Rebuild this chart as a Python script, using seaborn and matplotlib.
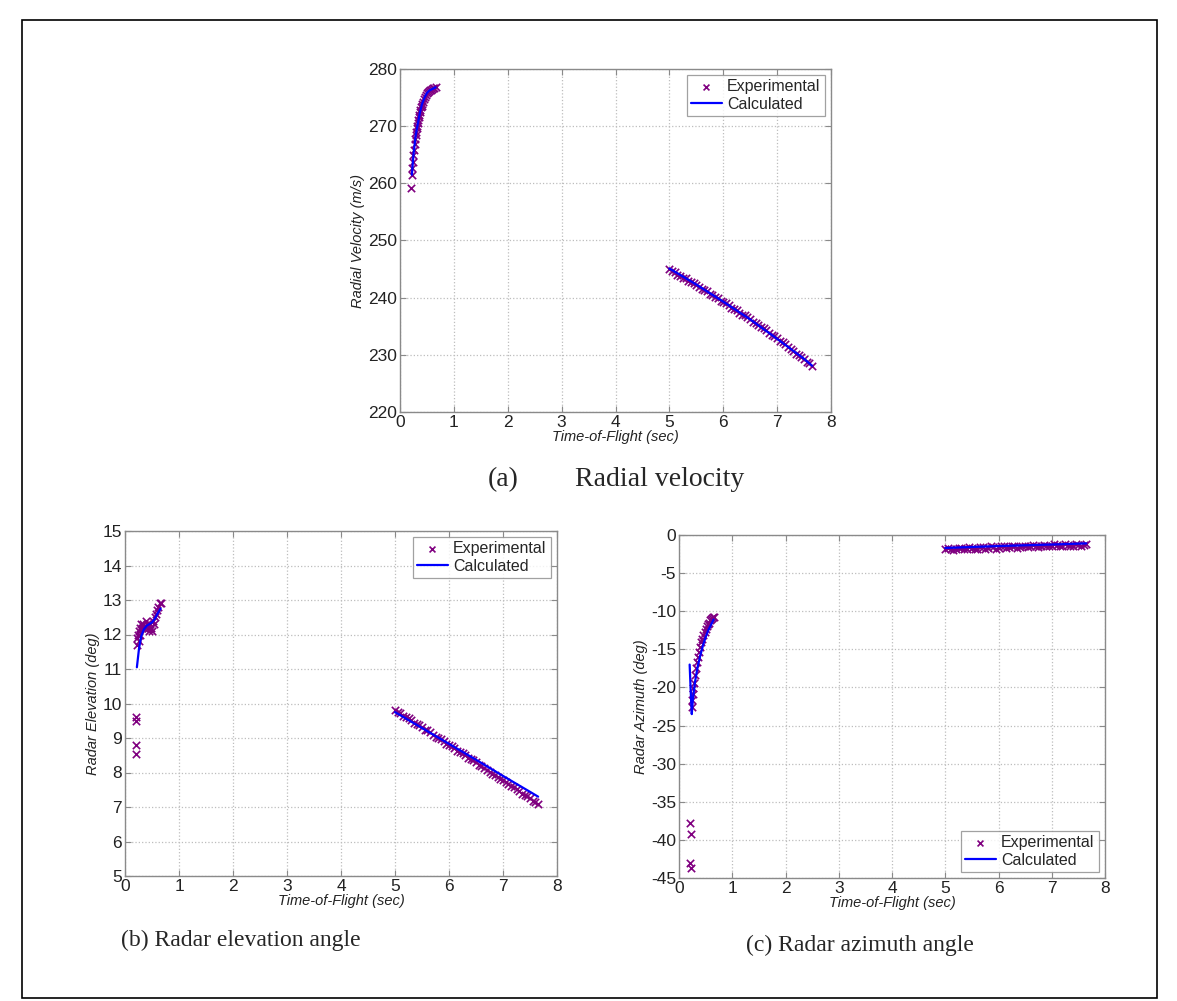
import matplotlib
matplotlib.use('Agg')
import numpy as np
import matplotlib.pyplot as plt
import seaborn as sns
from matplotlib.patches import Rectangle

# ---- (a) radial velocity, m/s
rv_t1 = [0.20, 0.22, 0.23, 0.24, 0.25, 0.26, 0.27, 0.28, 0.29, 0.30, 0.31, 0.32, 0.33, 0.34, 0.35, 0.36, 0.37,
         0.38, 0.39, 0.40, 0.41, 0.42, 0.44, 0.46, 0.48, 0.50, 0.52, 0.54, 0.56, 0.58, 0.60, 0.62, 0.64, 0.66]
rv_e1 = [259.2, 261.4, 262.6, 263.8, 264.9, 265.9, 266.9, 267.7, 268.4, 269.0, 269.6, 270.1, 270.6, 271.1, 271.6,
         272.0, 272.5, 272.9, 273.3, 273.6, 273.9, 274.2, 274.7, 275.1, 275.5, 275.8, 276.0, 276.2, 276.3, 276.4,
         276.5, 276.6, 276.7, 276.8]
# second track, shared time stamps for all three panels
t2 = [5.0, 5.05, 5.1, 5.15, 5.2, 5.25, 5.3, 5.35, 5.4, 5.45, 5.5, 5.55, 5.6, 5.65, 5.7, 5.75, 5.8, 5.85,
      5.9, 5.95, 6.0, 6.05, 6.1, 6.15, 6.2, 6.25, 6.3, 6.35, 6.4, 6.45, 6.5, 6.55, 6.6, 6.65, 6.7, 6.75,
      6.8, 6.85, 6.9, 6.95, 7.0, 7.05, 7.1, 7.15, 7.2, 7.25, 7.3, 7.35, 7.4, 7.45, 7.5, 7.55, 7.6, 7.65]
rv_e2 = [245.0, 244.6, 244.5, 244.0, 243.8, 243.5, 243.4, 242.9, 242.7, 242.6, 242.3, 241.8, 241.6, 241.4,
         241.1, 240.6, 240.4, 240.2, 239.9, 239.4, 239.2, 239.0, 238.7, 238.2, 238.0, 237.8, 237.4, 237.0,
         236.9, 236.6, 236.2, 235.8, 235.6, 235.3, 234.9, 234.7, 234.3, 233.8, 233.5, 233.3, 232.9, 232.4,
         232.2, 231.9, 231.4, 231.1, 230.7, 230.2, 229.9, 229.7, 229.3, 228.8, 228.5, 228.0]
rv_ct1 = [0.22, 0.25, 0.29, 0.33, 0.37, 0.41, 0.46, 0.50, 0.54, 0.60, 0.66]
rv_c1 = [261.5, 265.0, 268.3, 270.4, 272.4, 273.9, 275.1, 275.8, 276.2, 276.5, 276.8]
rv_ct2 = [5.0, 5.5, 6.0, 6.5, 7.0, 7.5, 7.65]
rv_c2 = [245.1, 242.3, 239.3, 236.2, 232.8, 229.3, 228.1]

# ---- (b) radar elevation, deg
el_t1 = [0.20, 0.21, 0.20, 0.21, 0.22, 0.23, 0.24, 0.25, 0.26, 0.27, 0.28, 0.30, 0.32, 0.34, 0.36, 0.38, 0.40,
         0.42, 0.44, 0.46, 0.48, 0.50, 0.52, 0.54, 0.56, 0.58, 0.60, 0.62, 0.64, 0.66]
el_e1 = [9.6, 9.5, 8.8, 8.55, 11.7, 11.9, 12.0, 11.8, 12.1, 12.2, 12.0, 12.3, 12.2, 12.3, 12.2, 12.4, 12.3,
         12.2, 12.1, 12.3, 12.2, 12.1, 12.4, 12.3, 12.5, 12.6, 12.7, 12.8, 12.9, 12.9]
el_e2 = [9.80, 9.74, 9.72, 9.64, 9.60, 9.57, 9.52, 9.44, 9.40, 9.37, 9.31, 9.24, 9.22, 9.17, 9.10, 9.04,
         9.01, 8.97, 8.90, 8.83, 8.80, 8.76, 8.70, 8.63, 8.59, 8.56, 8.50, 8.42, 8.38, 8.35, 8.29, 8.22,
         8.18, 8.14, 8.08, 8.01, 7.97, 7.93, 7.87, 7.80, 7.77, 7.73, 7.66, 7.60, 7.57, 7.52, 7.45, 7.39,
         7.36, 7.31, 7.25, 7.18, 7.14, 7.08]
el_ct1 = [0.22, 0.26, 0.30, 0.35, 0.40, 0.45, 0.50, 0.55, 0.60, 0.66]
el_c1 = [11.05, 11.6, 11.95, 12.15, 12.25, 12.3, 12.35, 12.45, 12.6, 12.75]
el_ct2 = [5.0, 5.5, 6.0, 6.5, 7.0, 7.5, 7.65]
el_c2 = [9.75, 9.29, 8.83, 8.37, 7.90, 7.44, 7.30]

# ---- (c) radar azimuth, deg
az_t1 = [0.21, 0.22, 0.21, 0.22, 0.24, 0.25, 0.26, 0.27, 0.28, 0.30, 0.32, 0.34, 0.36, 0.38, 0.40, 0.42, 0.44,
         0.46, 0.48, 0.50, 0.52, 0.54, 0.56, 0.58, 0.60, 0.62, 0.64, 0.66]
az_e1 = [-37.8, -39.2, -43.0, -43.7, -22.5, -21.6, -20.8, -20.1, -19.4, -18.4, -17.5, -16.7, -16.0, -15.3,
         -14.7, -14.1, -13.6, -13.1, -12.7, -12.3, -12.0, -11.7, -11.5, -11.2, -11.0, -10.9, -10.8, -10.7]
az_e2 = [-1.9, -1.7, -1.8, -2.0, -1.9, -1.7, -1.7, -1.9, -1.8, -1.6, -1.7, -1.9, -1.8, -1.6, -1.6, -1.8,
         -1.7, -1.5, -1.6, -1.8, -1.7, -1.5, -1.5, -1.7, -1.6, -1.4, -1.5, -1.7, -1.6, -1.4, -1.5, -1.6,
         -1.4, -1.3, -1.5, -1.6, -1.4, -1.3, -1.5, -1.5, -1.4, -1.2, -1.3, -1.5, -1.4, -1.2, -1.3, -1.5,
         -1.4, -1.2, -1.3, -1.4, -1.3, -1.2]
az_ct1 = [0.20, 0.22, 0.24, 0.26, 0.30, 0.35, 0.40, 0.45, 0.50, 0.55, 0.60, 0.65]
az_c1 = [-17.0, -20.5, -23.5, -21.6, -19.3, -17.3, -15.8, -14.5, -13.4, -12.5, -11.8, -11.1]
az_ct2 = [5.0, 6.0, 7.0, 7.65]
az_c2 = [-1.7, -1.45, -1.25, -1.1]

sns.set_theme(style="whitegrid")
plt.rcParams['font.family'] = ['Liberation Sans', 'DejaVu Sans']
plt.rcParams['axes.unicode_minus'] = False

W, H = 1177, 1001
fig = plt.figure(figsize=(W / 100, H / 100), dpi=100)
fig.patch.set_facecolor('white')


def px_axes(l, t, r, b):
    return fig.add_axes([l / W, 1 - b / H, (r - l) / W, (b - t) / H])


def style(ax, ylim, yticks, ylabel, legend_loc):
    ax.set_xlim(0, 8)
    ax.set_ylim(*ylim)
    ax.set_xticks(range(0, 9))
    ax.set_yticks(yticks)
    ax.set_facecolor('white')
    ax.grid(True, linestyle=':', color='#bdbdbd', linewidth=0.9)
    for s in ax.spines.values():
        s.set_color('#8a8a8a')
        s.set_linewidth(1.0)
    ax.tick_params(direction='in', length=4, width=0.8, color='#8a8a8a', top=True, right=True,
                   labelsize=12.5, labelcolor='#222222', pad=2, bottom=True, left=True)
    ax.set_xlabel('Time-of-Flight (sec)', fontsize=10.5, style='italic', color='#222222', labelpad=0)
    ax.set_ylabel(ylabel, fontsize=10.5, style='italic', color='#222222', labelpad=2)
    leg = ax.legend(loc=legend_loc, frameon=True, fancybox=False, fontsize=11.5, handlelength=2.0,
                    borderpad=0.25, labelspacing=0.15, handletextpad=0.3, borderaxespad=0.4,
                    markerscale=0.8)
    leg.get_frame().set_edgecolor('#8a8a8a')
    leg.get_frame().set_linewidth(0.9)


def draw(ax, t1, e1, e2, ct1, c1, ct2, c2):
    sns.scatterplot(x=t1, y=e1, marker='x', color='#800080', s=28, linewidth=1.2, ax=ax,
                    label='Experimental', zorder=3)
    sns.scatterplot(x=t2, y=e2, marker='x', color='#800080', s=28, linewidth=1.2, ax=ax, zorder=3)
    sns.lineplot(x=ct1, y=c1, color='#0000ff', linewidth=1.6, ax=ax, label='Calculated',
                 estimator=None, sort=False, zorder=4)
    sns.lineplot(x=ct2, y=c2, color='#0000ff', linewidth=1.6, ax=ax, estimator=None, sort=False, zorder=4)


ax_a = px_axes(400, 69, 831, 412)
draw(ax_a, rv_t1, rv_e1, rv_e2, rv_ct1, rv_c1, rv_ct2, rv_c2)
style(ax_a, (220, 280), range(220, 281, 10), 'Radial Velocity (m/s)', 'upper right')

ax_b = px_axes(125, 531, 557, 876)
draw(ax_b, el_t1, el_e1, el_e2, el_ct1, el_c1, el_ct2, el_c2)
style(ax_b, (5, 15), range(5, 16), 'Radar Elevation (deg)', 'upper right')

ax_c = px_axes(679, 535, 1105, 878)
draw(ax_c, az_t1, az_e1, az_e2, az_ct1, az_c1, az_ct2, az_c2)
style(ax_c, (-45, 0), range(-45, 1, 5), 'Radar Azimuth (deg)', 'lower right')

serif = ['Liberation Serif', 'DejaVu Serif']
fig.text(488 / W, 1 - 480 / H, '(a)', family=serif, fontsize=20, ha='left', va='center')
fig.text(575 / W, 1 - 480 / H, 'Radial velocity', family=serif, fontsize=20, ha='left', va='center')
fig.text(241 / W, 1 - 940 / H, '(b) Radar elevation angle', family=serif, fontsize=17, ha='center', va='center')
fig.text(860 / W, 1 - 945 / H, '(c) Radar azimuth angle', family=serif, fontsize=17, ha='center', va='center')

fig.patches.append(Rectangle((22 / W, 1 - 998 / H), (1157 - 22) / W, (998 - 20) / H,
                             transform=fig.transFigure, fill=False, edgecolor='black', linewidth=1.2))

fig.savefig('out.png', dpi=100)
